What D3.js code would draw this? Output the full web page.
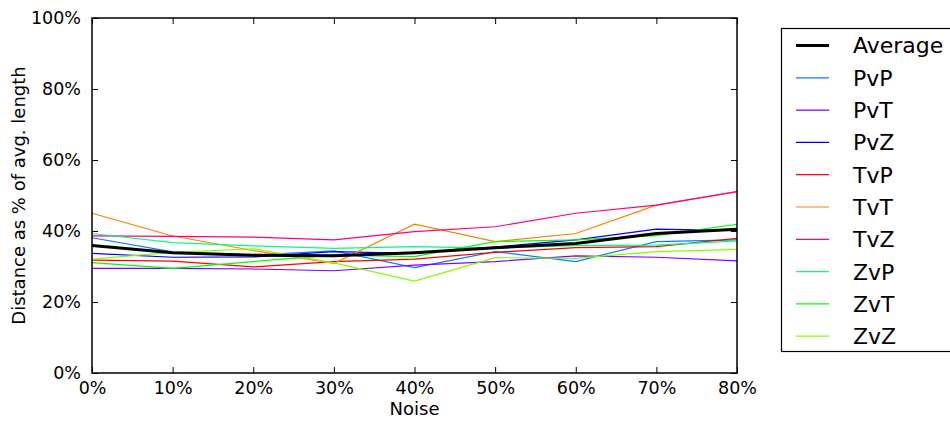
<!DOCTYPE html>
<html>
<head>
<meta charset="utf-8">
<script src="https://cdn.jsdelivr.net/npm/d3@7/dist/d3.min.js"></script>
<style>
  html, body { margin: 0; padding: 0; background: #fff; }
  svg { display: block; font-family: "DejaVu Sans", sans-serif; }
</style>
</head>
<body>
<svg id="chart" width="950" height="421"></svg>
<script>
// Noise levels (percent) along the x axis
const noise = [0, 10, 20, 30, 40, 50, 60, 70, 80];
const yTicks = [0, 20, 40, 60, 80, 100];

// Matchup names, colours and distances (% of average length)
const seriesNames = ["Average", "PvP", "PvT", "PvZ", "TvP", "TvT", "TvZ", "ZvP", "ZvT", "ZvZ"];
const seriesColors = ["#000000", "#0080ff", "#8000ff", "#0000ff", "#ff0000", "#ff8000", "#ff0080", "#00ff80", "#00ff00", "#80ff00"];

const average = [35.9, 33.9, 33.2, 33.0, 33.9, 35.3, 36.5, 39.3, 40.5];
const pvp = [38.1, 34.1, 33.2, 34.4, 29.7, 34.2, 31.4, 37.0, 37.5];
const pvt = [29.5, 29.5, 29.3, 28.8, 30.4, 31.4, 33.0, 32.6, 31.6];
const pvz = [33.7, 32.6, 32.7, 34.2, 33.7, 35.5, 37.5, 40.5, 40.1];
const tvp = [31.8, 31.5, 29.9, 31.4, 32.1, 34.0, 35.3, 35.6, 37.9];
const tvt = [45.0, 38.6, 34.5, 30.9, 41.9, 37.0, 39.3, 47.3, 51.1];
const tvz = [38.6, 38.5, 38.3, 37.5, 39.8, 41.2, 45.0, 47.3, 51.1];
const zvp = [39.3, 36.7, 35.8, 35.1, 35.6, 35.2, 35.9, 36.0, 37.2];
const zvt = [31.1, 29.5, 31.4, 33.2, 32.8, 37.0, 37.5, 38.7, 41.9];
const zvz = [32.1, 34.0, 35.0, 31.0, 25.9, 32.5, 32.3, 34.2, 34.8];

const seriesValues = [average, pvp, pvt, pvz, tvp, tvt, tvz, zvp, zvt, zvz];

const svg = d3.select("#chart");
const plot = { left: 92, top: 18, width: 645, height: 355 };

const x = d3.scaleLinear().domain([0, 80]).range([plot.left, plot.left + plot.width]);
const y = d3.scaleLinear().domain([0, 100]).range([plot.top + plot.height, plot.top]);

const line = d3.line()
  .x((d, i) => x(noise[i]))
  .y(d => y(d));

// Data lines: the coloured matchups first, the average drawn on top
const lines = svg.append("g");
seriesValues.forEach((vals, k) => {
  if (k === 0) return;
  lines.append("path")
    .attr("d", line(vals))
    .attr("fill", "none")
    .attr("stroke", seriesColors[k])
    .attr("stroke-width", 1.2);
});
lines.append("path")
  .attr("d", line(average))
  .attr("fill", "none")
  .attr("stroke", seriesColors[0])
  .attr("stroke-width", 3);

// Axes with inward ticks on all four sides
const fmt = d => d + "%";
const tickSize = 6;
svg.append("g")
  .attr("transform", `translate(0,${plot.top + plot.height})`)
  .call(d3.axisBottom(x).tickValues(noise).tickFormat(fmt).tickSizeInner(-tickSize).tickSizeOuter(0).tickPadding(9));
svg.append("g")
  .attr("transform", `translate(0,${plot.top})`)
  .call(d3.axisTop(x).tickValues(noise).tickFormat("").tickSizeInner(-tickSize).tickSizeOuter(0));
svg.append("g")
  .attr("transform", `translate(${plot.left},0)`)
  .call(d3.axisLeft(y).tickValues(yTicks).tickFormat(fmt).tickSizeInner(-tickSize).tickSizeOuter(0).tickPadding(11));
svg.append("g")
  .attr("transform", `translate(${plot.left + plot.width},0)`)
  .call(d3.axisRight(y).tickValues(yTicks).tickFormat("").tickSizeInner(-tickSize).tickSizeOuter(0));

svg.selectAll(".domain").remove();
svg.selectAll(".tick line").attr("stroke", "#000").attr("stroke-width", 1);
svg.selectAll(".tick text").attr("font-family", "DejaVu Sans").attr("font-size", 17.5).attr("fill", "#000");

// Plot frame
svg.append("rect")
  .attr("x", plot.left).attr("y", plot.top)
  .attr("width", plot.width).attr("height", plot.height)
  .attr("fill", "none").attr("stroke", "#000").attr("stroke-width", 1.5);

// Axis titles
svg.append("text")
  .attr("x", x(40)).attr("y", 415)
  .attr("text-anchor", "middle")
  .attr("font-size", 18)
  .text("Noise");
svg.append("text")
  .attr("transform", `translate(25,${y(50)}) rotate(-90)`)
  .attr("text-anchor", "middle")
  .attr("font-size", 18)
  .text("Distance as % of avg. length");

// Legend
const legend = svg.append("g");
legend.append("rect")
  .attr("x", 781.5).attr("y", 28.5)
  .attr("width", 200).attr("height", 323)
  .attr("fill", "#fff").attr("stroke", "#000").attr("stroke-width", 1.2);
const rowH = 32.3;
seriesNames.forEach((name, k) => {
  const cy = 45.5 + k * rowH;
  legend.append("line")
    .attr("x1", 796).attr("x2", 829)
    .attr("y1", cy).attr("y2", cy)
    .attr("stroke", seriesColors[k])
    .attr("stroke-width", k === 0 ? 3 : 1.2);
  legend.append("text")
    .attr("x", 853).attr("y", cy)
    .attr("dy", "0.36em")
    .attr("font-size", 22)
    .text(name);
});
</script>
</body>
</html>
